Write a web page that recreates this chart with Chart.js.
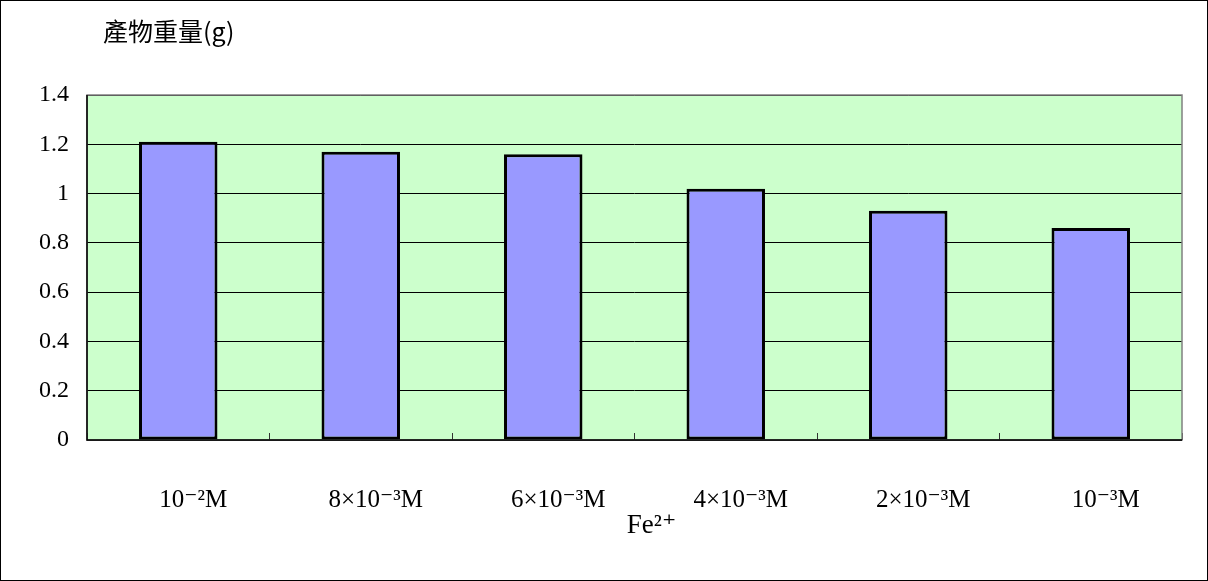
<!DOCTYPE html>
<html>
<head>
<meta charset="utf-8">
<script src="https://cdn.jsdelivr.net/npm/chart.js@4"></script>
<style>
  html, body { margin: 0; padding: 0; background: #fff; }
  #wrap { width: 1208px; height: 581px; position: relative; }
</style>
</head>
<body>
<div id="wrap"><canvas id="c" width="1208" height="581"></canvas></div>
<script>
// Fe2+ concentration categories
const categories = ['10⁻²M', '8×10⁻³M', '6×10⁻³M', '4×10⁻³M', '2×10⁻³M', '10⁻³M'];
// Product weight (g)
const weights = [1.21, 1.17, 1.16, 1.02, 0.93, 0.86];
// Y axis ticks
const yTicks = [0, 0.2, 0.4, 0.6, 0.8, 1, 1.2, 1.4];

const chartTitle = '產物重量(g)';
const xTitle = 'Fe²⁺';

const serif = '"Liberation Serif", "DejaVu Serif", serif';

const framePlugin = {
  id: 'frame',
  beforeDraw(chart) {
    const { ctx, chartArea: a } = chart;
    ctx.save();
    ctx.fillStyle = '#ffffff';
    ctx.fillRect(0, 0, chart.width, chart.height);
    ctx.fillStyle = '#CCFFCC';
    ctx.fillRect(a.left, a.top, a.right - a.left, a.bottom - a.top);
    ctx.restore();
  },
  afterDatasetsDraw(chart) {
    const { ctx, chartArea: a } = chart;
    ctx.save();
    ctx.strokeStyle = '#808080';
    ctx.lineWidth = 1.5;
    ctx.strokeRect(a.left, a.top, a.right - a.left, a.bottom - a.top);
    ctx.strokeStyle = '#000000';
    ctx.lineWidth = 1.5;
    ctx.beginPath();
    ctx.moveTo(a.left, a.top);
    ctx.lineTo(a.left, a.bottom);
    ctx.lineTo(a.right, a.bottom);
    ctx.stroke();
    ctx.restore();
  },
  afterDraw(chart) {
    const { ctx, chartArea: a } = chart;
    ctx.save();
    ctx.strokeStyle = '#000000';
    ctx.lineWidth = 1;
    ctx.strokeRect(0.5, 0.5, chart.width - 1, chart.height - 1);
    ctx.fillStyle = '#000000';
    ctx.textBaseline = 'middle';
    // chart title, top left above the plot
    ctx.font = '25px "Noto Sans CJK TC", "Noto Sans CJK SC", sans-serif';
    ctx.textAlign = 'left';
    ctx.fillText(chartTitle, a.left + 16, 31);
    // x axis title, under the category labels
    ctx.font = '27px ' + serif;
    ctx.textAlign = 'center';
    ctx.fillText(xTitle, (a.left + a.right) / 2 + 17, 526);
    ctx.restore();
  }
};

new Chart(document.getElementById('c'), {
  type: 'bar',
  data: {
    labels: categories,
    datasets: [{
      data: weights,
      backgroundColor: '#9999FF',
      borderColor: '#000000',
      borderWidth: 3,
      borderSkipped: false,
      barPercentage: 0.43,
      categoryPercentage: 1.0
    }]
  },
  options: {
    responsive: false,
    animation: false,
    devicePixelRatio: 1,
    layout: { padding: { top: 95, right: 26, bottom: 0, left: 0 } },
    plugins: {
      legend: { display: false },
      tooltip: { enabled: false },
      title: { display: false }
    },
    scales: {
      x: {
        offset: true,
        grid: {
          offset: true,
          drawOnChartArea: false,
          drawTicks: true,
          tickLength: -7,
          color: '#333333',
          lineWidth: 1
        },
        border: { display: false },
        ticks: {
          color: '#000000',
          font: { family: serif, size: 25 },
          padding: 52,
          labelOffset: 15,
          maxRotation: 0,
          autoSkip: false
        },
        title: { display: false },
        afterFit(scale) { scale.height = 141; }
      },
      y: {
        min: 0,
        max: 1.4,
        afterBuildTicks(scale) { scale.ticks = yTicks.map(v => ({ value: v })); },
        grid: {
          drawTicks: false,
          color: '#000000',
          lineWidth: 1
        },
        border: { display: false },
        ticks: {
          color: '#000000',
          font: { family: serif, size: 24 },
          padding: 18,
          callback: v => String(v)
        },
        afterFit(scale) { scale.width = 87; }
      }
    }
  },
  plugins: [framePlugin]
});
</script>
</body>
</html>
